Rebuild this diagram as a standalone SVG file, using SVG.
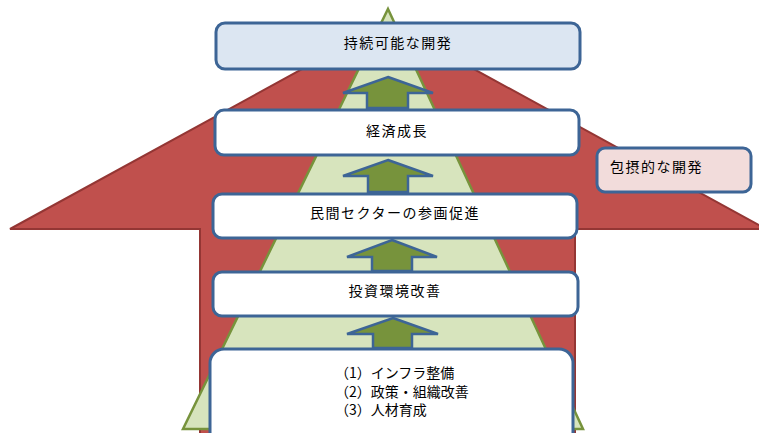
<svg xmlns="http://www.w3.org/2000/svg" width="759" height="433" viewBox="0 0 759 433">
<style>
.box{stroke:#3d6596;stroke-width:3}
.up{fill:#77933c;stroke:#3d6596;stroke-width:2.5;stroke-linejoin:miter}
text{font-family:"Noto Sans CJK JP","Noto Sans",sans-serif;font-size:14px;fill:#000;letter-spacing:1.5px}
.c{text-anchor:middle}
.l{font-size:14px;letter-spacing:0}
</style>
<rect width="759" height="433" fill="#fff"/>
<g id="inclusive-arrow">
<polygon points="388,22 766,229 575,229 575,440 200,440 200,229 10,229" fill="#c0504d" stroke="#943634" stroke-width="2"/>
</g>
<g id="pyramid">
<polygon points="388,9 583,429 183,429" fill="#d7e4bd" stroke="#77933c" stroke-width="2.5"/>
</g>
<g id="node-sustainable">
<rect class="box" x="216" y="23" width="364" height="46" rx="9" fill="#dce6f2"/>
<text class="c" x="398" y="42" dominant-baseline="central">持続可能な開発</text>
</g>
<g id="node-growth">
<rect class="box" x="215" y="110" width="364" height="45" rx="9" fill="#fff"/>
<text class="c" x="397" y="130" dominant-baseline="central">経済成長</text>
</g>
<g id="node-private">
<rect class="box" x="213" y="194" width="364" height="44" rx="9" fill="#fff"/>
<text class="c" x="395" y="212" dominant-baseline="central">民間セクターの参画促進</text>
</g>
<g id="node-investment">
<rect class="box" x="213" y="272" width="365" height="44" rx="9" fill="#fff"/>
<text class="c" x="395" y="290" dominant-baseline="central">投資環境改善</text>
</g>
<g id="node-base">
<rect class="box" x="210" y="349" width="363" height="100" rx="14" fill="#fff"/>
<text class="l" x="335" y="372" dominant-baseline="central">（1）インフラ整備</text>
<text class="l" x="335" y="390.5" dominant-baseline="central">（2）政策・組織改善</text>
<text class="l" x="335" y="409" dominant-baseline="central">（3）人材育成</text>
</g>
<g id="node-inclusive">
<rect class="box" x="597" y="148" width="154" height="44" rx="8" fill="#f2dcdb"/>
<text x="610" y="166" dominant-baseline="central">包摂的な開発</text>
</g>
<g id="connectors">
<polygon class="up" points="388,77 433,93 408,93 408,108 367,108 367,93 343,93"/>
<polygon class="up" points="388,160 433,176 408,176 408,192 368,192 368,176 343,176"/>
<polygon class="up" points="392,240 437,257 412,257 412,271 372,271 372,257 347,257"/>
<polygon class="up" points="393,318 438,334 412,334 412,348 373,348 373,334 347,334"/>
</g>
</svg>
